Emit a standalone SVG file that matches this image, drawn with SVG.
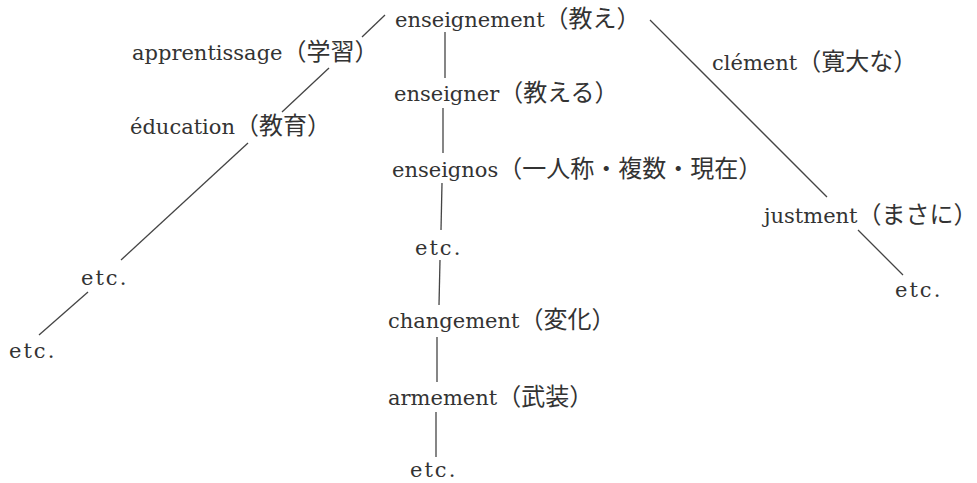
<svg xmlns="http://www.w3.org/2000/svg" width="977" height="483" viewBox="0 0 977 483">
<style>
text{font-family:"DejaVu Serif","Noto Sans CJK JP",serif;font-size:21px;fill:#333}
.j{font-family:"Noto Sans CJK JP",sans-serif;font-size:24px}
.e{letter-spacing:2px}
.c line{stroke:#444;stroke-width:1.3;fill:none}
</style>
<rect width="977" height="483" fill="#fff"/>
<g class="c" id="connectors">
<line x1="385" y1="15" x2="362" y2="37"/>
<line x1="329" y1="68" x2="282" y2="112"/>
<line x1="248" y1="143" x2="121" y2="260"/>
<line x1="88" y1="292" x2="39" y2="335"/>
<line x1="445" y1="32" x2="445" y2="78"/>
<line x1="443" y1="108" x2="443" y2="153"/>
<line x1="442" y1="183" x2="441" y2="230"/>
<line x1="440" y1="260" x2="439" y2="305"/>
<line x1="437" y1="337" x2="437" y2="382"/>
<line x1="436" y1="412" x2="436" y2="457"/>
<line x1="650" y1="20" x2="827" y2="197"/>
<line x1="858" y1="230" x2="903" y2="275"/>
</g>
<g id="n-enseignement"><text x="395" y="27">enseignement<tspan class="j">（教え）</tspan></text></g>
<g id="n-apprentissage"><text x="132" y="60">apprentissage<tspan class="j">（学習）</tspan></text></g>
<g id="n-education"><text x="130" y="134">éducation<tspan class="j">（教育）</tspan></text></g>
<g id="n-enseigner"><text x="394" y="101">enseigner<tspan class="j">（教える）</tspan></text></g>
<g id="n-clement"><text x="712" y="70">clément<tspan class="j">（寛大な）</tspan></text></g>
<g id="n-enseignos"><text x="392" y="177">enseignos<tspan class="j">（一人称・複数・現在）</tspan></text></g>
<g id="n-justment"><text x="764" y="223">justment<tspan class="j">（まさに）</tspan></text></g>
<g id="n-etc-center"><text class="e" x="415" y="255">etc.</text></g>
<g id="n-etc-left1"><text class="e" x="81" y="285">etc.</text></g>
<g id="n-etc-left2"><text class="e" x="9" y="358">etc.</text></g>
<g id="n-etc-right"><text class="e" x="895" y="297">etc.</text></g>
<g id="n-changement"><text x="388" y="328">changement<tspan class="j">（変化）</tspan></text></g>
<g id="n-armement"><text x="388" y="405">armement<tspan class="j">（武装）</tspan></text></g>
<g id="n-etc-bottom"><text class="e" x="410" y="477">etc.</text></g>
</svg>
